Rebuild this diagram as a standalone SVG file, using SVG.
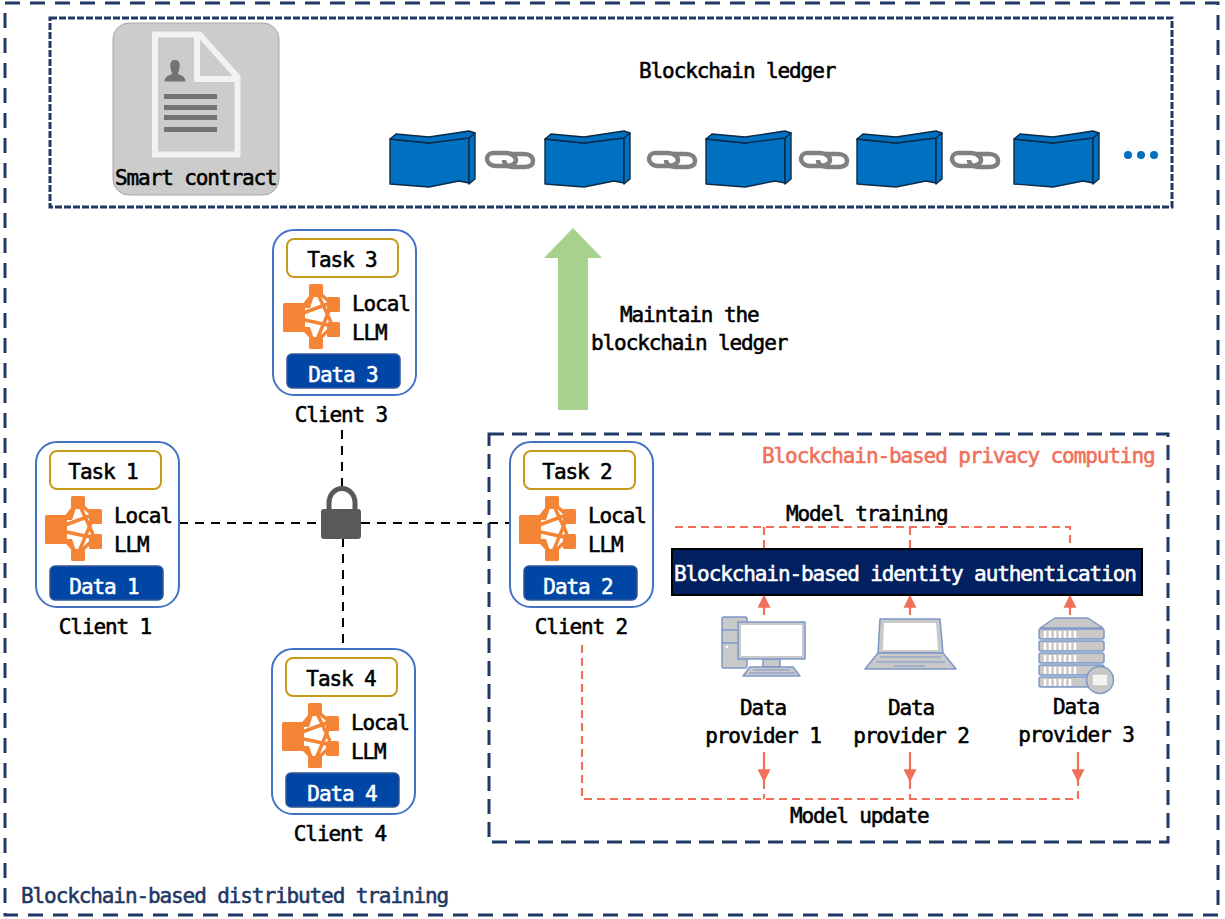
<svg xmlns="http://www.w3.org/2000/svg" width="1225" height="919" viewBox="0 0 1225 919">
<style>
text{font-family:"DejaVu Sans Mono","Liberation Mono",monospace;font-size:21px;letter-spacing:-1.1px;fill:#000;stroke:#000;stroke-width:.55px}
.m{text-anchor:middle}
.w{fill:#fff;stroke:#fff}
.navy{fill:#1f3864;stroke:#1f3864}
.red{fill:#f0705a;stroke:#f0705a}
.frame{fill:none;stroke:#1f3864;stroke-width:3;stroke-dasharray:15 10}
.client{fill:#fff;stroke:#4472c4;stroke-width:2}
.task{fill:#fff;stroke:#c79a1b;stroke-width:2}
.data{fill:#0047a5;stroke:#2f5597;stroke-width:1.5}
.org{fill:#f58536}
.orgl{stroke:#f58536;stroke-width:3.5;fill:none}
.blk{stroke:#0b2a45;stroke-width:1.4;stroke-linejoin:round;fill:#0070c0}
.lnk{fill:none;stroke:#808080;stroke-width:4.5}
.dash{fill:none;stroke:#000;stroke-width:2;stroke-dasharray:9 7}
.rd{fill:none;stroke:#f0705a;stroke-width:2.2;stroke-dasharray:8 5}
.rs{fill:none;stroke:#f0705a;stroke-width:2.2}
.dev{fill:#c9c9c9;stroke:#7e97c7;stroke-width:1.5;stroke-linejoin:round}
.scr{fill:#fff}
</style>
<defs>
<marker id="rh" viewBox="0 0 10 10" refX="9" refY="5" markerWidth="13" markerHeight="13" markerUnits="userSpaceOnUse" orient="auto-start-reverse"><path d="M0 0L10 5L0 10Z" fill="#f0705a"/></marker>
<g id="block">
<path class="blk" d="M0 19L39 23L79 17V63L69 61L39 67L0 64Z"/>
<path class="blk" d="M79 17L85 13V59L79 64Z"/>
<path class="blk" d="M0 19L6 14L39 17L79 11L85 13L79 18L39 23Z"/>
</g>
<g id="link">
<path class="lnk" d="M8 3H21C27 3 31 7 31 10S27 16 22 16H11C5 16 2 12 2 9S4 3 8 3Z"/>
<path class="lnk" d="M26 4H39C45 4 48 7 48 11S45 17 39 17H28C23 17 19 14 19 10"/>
</g>
<g id="llm">
<path class="orgl" d="M22 86L43 60M22 86L60 72M22 88L60 96M22 90L43 112M43 60L60 75M43 60L58 92M43 112L60 96M43 112L58 76"/>
<rect class="org" x="10" y="73" width="22" height="29" rx="1.500"/>
<rect class="org" x="36" y="54" width="14" height="13" rx="1.500"/>
<rect class="org" x="54" y="67" width="13" height="15" rx="1.500"/>
<rect class="org" x="54" y="92" width="13" height="15" rx="1.500"/>
<rect class="org" x="36" y="107" width="14" height="12" rx="1.500"/>
<path class="org" d="M30 78L37 66H41L37 78ZM30 97L37 109H41L37 97Z"/>
</g>
</defs>

<rect id="outer-frame" class="frame" x="5" y="3" width="1213" height="912"/>
<text class="navy" x="21" y="903">Blockchain-based distributed training</text>

<g id="ledger">
<rect x="50" y="18" width="1122" height="189" fill="#fff" stroke="#1f3864" stroke-width="3" stroke-dasharray="7 2"/>
<text x="639" y="78">Blockchain ledger</text>
<use href="#block" x="390" y="120"/>
<use href="#block" x="545" y="120"/>
<use href="#block" x="706" y="120"/>
<use href="#block" x="857" y="120"/>
<use href="#block" x="1014" y="120"/>
<use href="#link" x="485" y="150"/>
<use href="#link" x="647" y="150"/>
<use href="#link" x="799" y="150"/>
<use href="#link" x="950" y="150"/>
<circle cx="1128" cy="155" r="4" fill="#0070c0"/>
<circle cx="1141" cy="155" r="4" fill="#0070c0"/>
<circle cx="1154" cy="155" r="4" fill="#0070c0"/>
</g>

<g id="smart-contract">
<rect x="113" y="23" width="166" height="172" rx="16" fill="#ccc" stroke="#a6a6a6"/>
<path d="M155 34.500H199.500L237.500 77V154.500H155Z" fill="#ccc" stroke="#f2f2f2" stroke-width="6"/>
<path d="M197 34V79H237" fill="none" stroke="#f2f2f2" stroke-width="6"/>
<circle cx="175" cy="65" r="4.500" fill="#737373"/>
<path d="M175 60c-4 0-5 3-4.500 8c.3 3 1.500 4 1.500 5.500c-1 2-7.500 2-7.500 8h21c0-6-6.500-6-7.500-8c0-1.500 1.200-2.500 1.500-5.500c.5-5-.5-8-4.500-8Z" fill="#737373"/>
<g fill="#737373"><rect x="164" y="94" width="53" height="5"/><rect x="164" y="105" width="53" height="5"/><rect x="164" y="115" width="53" height="5"/><rect x="164" y="127" width="53" height="5"/></g>
<text x="115" y="185">Smart contract</text>
</g>

<g id="connectors">
<path class="dash" d="M179 523H321"/>
<path class="dash" d="M361 523H510"/>
<path class="dash" d="M342 430V486"/>
<path class="dash" d="M343 538V649"/>
<path d="M573 228L602 258H588V410H558V258H544Z" fill="#a9d18e"/>
<path class="rd" d="M675 527H1070V548M764 527V548M910 527V548"/>
<path class="rs" d="M764 615V596" marker-end="url(#rh)"/>
<path class="rs" d="M910 615V596" marker-end="url(#rh)"/>
<path class="rs" d="M1070 615V596" marker-end="url(#rh)"/>
<path class="rs" d="M764 752V781" marker-end="url(#rh)"/>
<path class="rs" d="M910 752V781" marker-end="url(#rh)"/>
<path class="rs" d="M1078 752V781" marker-end="url(#rh)"/>
<path class="rd" d="M582 645V799H1078V781M764 781V799M910 781V799"/>
</g>

<g id="lock">
<path d="M329 512V503a12.500 14 0 0 1 26 0V512" fill="none" stroke="#595959" stroke-width="5"/>
<rect x="321" y="509" width="40" height="30" rx="3" fill="#595959"/>
</g>

<g id="client-3" transform="translate(273 230)">
<rect class="client" width="143" height="165" rx="21"/>
<rect class="task" x="14" y="9" width="111" height="38" rx="7"/>
<text class="m" x="69" y="37">Task 3</text>
<use href="#llm"/>
<text x="79" y="81">Local</text><text x="79" y="110">LLM</text>
<rect class="data" x="14" y="124" width="113" height="34" rx="5"/>
<text class="m w" x="70" y="152">Data 3</text>
<text class="m" x="68" y="192">Client 3</text>
</g>
<g id="client-1" transform="translate(36 442)">
<rect class="client" width="143" height="165" rx="21"/>
<rect class="task" x="14" y="9" width="111" height="38" rx="7"/>
<text class="m" x="67" y="37">Task 1</text>
<use href="#llm" x="-1"/>
<text x="78" y="81">Local</text><text x="78" y="110">LLM</text>
<rect class="data" x="14" y="124" width="113" height="34" rx="5"/>
<text class="m w" x="68" y="152">Data 1</text>
<text class="m" x="69" y="192">Client 1</text>
</g>
<g id="client-2" transform="translate(510 442)">
<rect class="client" width="143" height="165" rx="21"/>
<rect class="task" x="14" y="9" width="111" height="38" rx="7"/>
<text class="m" x="67" y="37">Task 2</text>
<use href="#llm" x="-1"/>
<text x="78" y="81">Local</text><text x="78" y="110">LLM</text>
<rect class="data" x="14" y="124" width="113" height="34" rx="5"/>
<text class="m w" x="68" y="152">Data 2</text>
<text class="m" x="71" y="192">Client 2</text>
</g>
<g id="client-4" transform="translate(272 649)">
<rect class="client" width="143" height="165" rx="21"/>
<rect class="task" x="14" y="9" width="111" height="38" rx="7"/>
<text class="m" x="69" y="37">Task 4</text>
<use href="#llm"/>
<text x="79" y="81">Local</text><text x="79" y="110">LLM</text>
<rect class="data" x="14" y="124" width="113" height="34" rx="5"/>
<text class="m w" x="70" y="152">Data 4</text>
<text class="m" x="68" y="192">Client 4</text>
</g>

<text x="620" y="322">Maintain the</text>
<text x="591" y="350">blockchain ledger</text>

<g id="privacy-computing">
<rect x="489" y="434" width="679" height="408" fill="none" stroke="#1f3864" stroke-width="3" stroke-dasharray="15 8"/>
<text class="red" x="762" y="463">Blockchain-based privacy computing</text>
<text x="786" y="521">Model training</text>
<text x="790" y="823">Model update</text>
</g>

<g id="identity-authentication">
<rect x="672" y="549" width="470" height="46" fill="#002060" stroke="#000" stroke-width="2"/>
<text class="w" x="674" y="581">Blockchain-based identity authentication</text>
</g>

<g id="provider-1">
<rect class="dev" x="722" y="617" width="25" height="51" rx="2"/>
<path class="dev" d="M722 630H738M722 643H738"/>
<circle cx="727" cy="647" r="1.300" fill="#fff"/>
<rect class="dev" x="763" y="659" width="17" height="8"/>
<rect class="dev" x="738" y="622" width="67" height="37"/>
<rect class="scr" x="741" y="625" width="61" height="31"/>
<path class="dev" d="M750 667H793L800 676H743Z"/>
<path d="M753 670H790M749 673H795" stroke="#7e97c7" stroke-width="1"/>
<text class="m" x="763" y="715">Data</text><text class="m" x="763" y="743">provider 1</text>
</g>
<g id="provider-2">
<path class="dev" d="M880 619H940L943 653H878Z"/>
<path class="scr" d="M884 623H936L938 650H883Z"/>
<path class="dev" d="M878 653H943L956 669H865Z"/>
<path d="M880 657H941M876 662H945M894 666H925" stroke="#7e97c7" stroke-width="1"/>
<text class="m" x="911" y="715">Data</text><text class="m" x="911" y="743">provider 2</text>
</g>
<g id="provider-3">
<path class="dev" d="M1040 628L1055 618H1088L1103 628Z"/>
<g class="dev"><rect x="1039" y="629" width="65" height="10" rx="2"/><rect x="1039" y="641" width="65" height="10" rx="2"/><rect x="1039" y="653" width="65" height="10" rx="2"/><rect x="1039" y="665" width="65" height="10" rx="2"/><rect x="1039" y="677" width="65" height="10" rx="2"/></g>
<path d="M1045 631v7M1050 631v7M1055 631v7M1060 631v7M1065 631v7M1070 631v7M1075 631v7M1045 643v7M1050 643v7M1055 643v7M1060 643v7M1065 643v7M1070 643v7M1075 643v7M1045 655v7M1050 655v7M1055 655v7M1060 655v7M1065 655v7M1070 655v7M1075 655v7M1045 667v7M1050 667v7M1055 667v7M1060 667v7M1065 667v7M1070 667v7M1075 667v7M1045 679v7M1050 679v7M1055 679v7M1060 679v7M1065 679v7M1070 679v7" stroke="#fff" stroke-width="2.500"/>
<circle class="dev" cx="1100" cy="680" r="13.500"/>
<rect x="1092" y="674" width="16" height="12" fill="#f2f2f2" stroke="#bbb"/>
<text class="m" x="1076" y="714">Data</text><text class="m" x="1076" y="742">provider 3</text>
</g>
</svg>
